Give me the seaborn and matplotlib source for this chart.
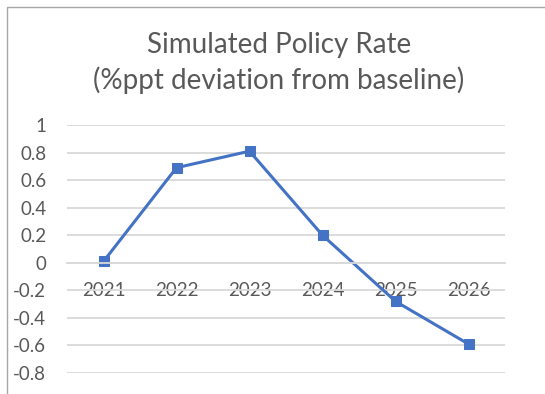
import matplotlib
matplotlib.use("Agg")
import matplotlib.pyplot as plt
from matplotlib.patches import Rectangle
import numpy as np
import pandas as pd
import seaborn as sns

years = ["2021", "2022", "2023", "2024", "2025", "2026"]
policy_rate = [0.01, 0.69, 0.81, 0.20, -0.28, -0.59]
y_ticks = [1, 0.8, 0.6, 0.4, 0.2, 0, -0.2, -0.4, -0.6, -0.8]
y_tick_labels = ["1", "0.8", "0.6", "0.4", "0.2", "0", "-0.2", "-0.4", "-0.6", "-0.8"]
title_lines = ["Simulated Policy Rate", "(%ppt deviation from baseline)"]

sns.set_theme(style="white")
plt.rcParams["font.family"] = ["Lato", "DejaVu Sans"]

TEXT = "#595959"
GRID = "#d9d9d9"
LINE = "#4472C4"

df = pd.DataFrame({"pos": np.arange(len(years)), "year": years, "rate": policy_rate})

fig = plt.figure(figsize=(5.45, 3.94), dpi=100)
ax = fig.add_axes([67 / 545, 1 - 373 / 394, (505 - 67) / 545, (373 - 125) / 394])

sns.lineplot(data=df, x="pos", y="rate", ax=ax, color=LINE, linewidth=2.2,
             marker="s", markersize=7.5, markeredgecolor=LINE, markerfacecolor=LINE)

ax.set_xlim(-0.5, len(years) - 0.5)
ax.set_ylim(-0.8, 1.0)
ax.set_yticks(y_ticks)
ax.set_yticklabels(y_tick_labels)
ax.set_xticks(df["pos"])
ax.set_xticklabels(years)
ax.set_xlabel("")
ax.set_ylabel("")

ax.yaxis.grid(True, color=GRID, linewidth=1.3)
ax.set_axisbelow(True)
for s in ["top", "right", "left"]:
    ax.spines[s].set_visible(False)
ax.spines["bottom"].set_position(("data", 0))
ax.spines["bottom"].set_color(GRID)
ax.spines["bottom"].set_linewidth(1.3)
ax.tick_params(axis="both", length=0, labelsize=13.5, labelcolor=TEXT)
ax.tick_params(axis="y", pad=15)
ax.tick_params(axis="x", pad=14)

fig.text(279 / 545, 1 - 45 / 394, title_lines[0], ha="center", va="center",
         fontsize=20, color=TEXT)
fig.text(279 / 545, 1 - 80 / 394, title_lines[1], ha="center", va="center",
         fontsize=20, color=TEXT)

fig.patches.append(Rectangle((7 / 545, -0.1), 1.2, 1 - 7 / 394 + 0.1,
                             transform=fig.transFigure, fill=False,
                             edgecolor="#a6a6a6", linewidth=1.0))

fig.savefig("out.png", dpi=100)
